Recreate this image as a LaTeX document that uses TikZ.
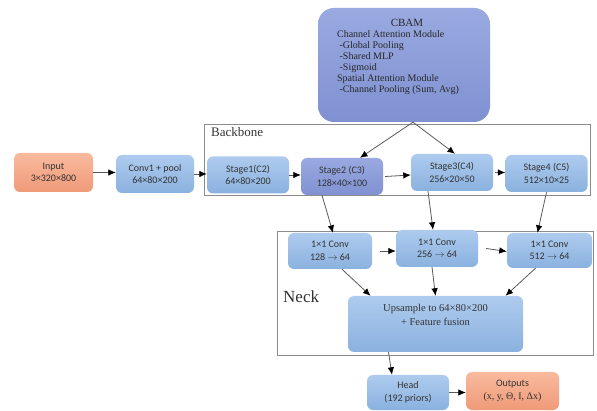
\documentclass[tikz,border=0pt]{standalone}
\usepackage{fontspec}
\setmainfont{Liberation Serif}
\newfontfamily\boxfont{Carlito}
\usetikzlibrary{arrows.meta,positioning,calc}
\definecolor{boxtop}{HTML}{AECBEE}
\definecolor{boxbot}{HTML}{8AB1DF}
\definecolor{stagetop}{HTML}{9AA9E0}
\definecolor{stagebot}{HTML}{7F91D2}
\definecolor{orangetop}{HTML}{F9BA9E}
\definecolor{orangebot}{HTML}{EF9A78}
\definecolor{textgray}{HTML}{333333}
\definecolor{framegray}{HTML}{8C8C8C}

\begin{document}
\begin{tikzpicture}[
		x=1pt, y=-1pt,
		block/.style={rounded corners=6pt, top color=boxtop, bottom color=boxbot, text=textgray,
				align=center, inner sep=2pt, font=\boxfont\fontsize{10}{12.5}\selectfont},
		stagebox/.style={block, minimum width=82pt, minimum height=37pt},
		convbox/.style={block, minimum width=84pt, minimum height=36pt},
		darkbox/.style={stagebox, top color=stagetop, bottom color=stagebot},
		outbox/.style={block, top color=orangetop, bottom color=orangebot},
		cbambox/.style={rounded corners=16pt, top color=stagetop, bottom color=stagebot, text=black!85,
				minimum width=172pt, minimum height=114pt, inner sep=0pt, font=\fontsize{10}{11}\selectfont},
		frame/.style={draw=framegray, line width=0.8pt, inner sep=0pt},
		framelabel/.style={inner sep=0pt, anchor=base west, text=black!80},
		arr/.style={-{Latex[length=7.5pt,width=6.5pt,color=black]}, draw=black!65, line width=0.8pt}
	]

	\useasboundingbox (0,0) rectangle (597,411);

	\node[frame, minimum width=386pt, minimum height=71pt] (bbframe) at (397,159.5) {};
	\node[framelabel, font=\fontsize{13}{15}\selectfont] (bblabel) at (211,137) {Backbone};
	\node[frame, minimum width=316pt, minimum height=124pt] (neckframe) at (435,293) {};
	\node[framelabel, font=\fontsize{17}{19}\selectfont] (necklabel) at (283,303) {Neck};

	\node[cbambox] (cbam) at (404,65) {\begin{tabular}{@{}l@{\hspace{12pt}}}
			\multicolumn{1}{@{}c@{\hspace{12pt}}}{\hspace{18pt}\fontsize{11}{11}\selectfont CBAM}\\
			Channel Attention Module\\
			\ -Global Pooling\\
			\ -Shared MLP\\
			\ -Sigmoid\\
			Spatial Attention Module\\
			\ -Channel Pooling (Sum, Avg)\\[16pt]
		\end{tabular}};

	\node[outbox, minimum width=79pt, minimum height=39pt] (input) at (53.5,172.5) {Input\\3×320×800};
	\node[block, minimum width=78pt, minimum height=38pt] (conv1) at (155,174) {Conv1 + pool\\64×80×200};
	\node[stagebox] (stage1) at (248,175) {Stage1(C2)\\64×80×200};
	\node[darkbox] (stage2) at (342,176.5) {Stage2 (C3)\\128×40×100};
	\node[stagebox] (stage3) at (452,172.5) {Stage3(C4)\\256×20×50};
	\node[stagebox] (stage4) at (546.5,173.5) {Stage4 (C5)\\512×10×25};

	\node[convbox] (lat3) at (330,251) {1×1 Conv\\128 $\to$ 64};
	\node[convbox, minimum width=82pt, minimum height=37pt] (lat4) at (437,248.5) {1×1 Conv\\256 $\to$ 64};
	\node[convbox, minimum width=85pt, minimum height=35pt] (lat5) at (549.5,250.5) {1×1 Conv\\512 $\to$ 64};

	\node[block, minimum width=175pt, minimum height=56pt, font=\fontsize{10.5}{14}\selectfont] (fusion) at (435.5,324) {Upsample to 64×80×200\\+ Feature fusion\\[4pt]};

	\node[block, minimum width=82pt, minimum height=35pt] (head) at (408,392.5) {Head\\(192 priors)};
	\node[outbox, minimum width=93pt, minimum height=38pt] (outputs) at (512.5,391) {Outputs\\{\rmfamily (x, y, Θ, I, Δx)}};

	\draw[arr] (input.east) -- (input.east -| conv1.west);
	\draw[arr] (conv1.east) -- (conv1.east -| stage1.west);
	\draw[arr] (stage1.east) -- (stage1.east -| stage2.west);
	\draw[arr] ([xshift=2pt]stage2.east) -- ([yshift=1.5pt]stage2.east -| stage3.west);
	\draw[arr] ([xshift=2pt]stage3.east) -- (stage3.east -| stage4.west);

	\draw[arr] ([xshift=9pt]cbam.south) -- ([xshift=18pt]stage2.north);
	\draw[arr] ([xshift=9pt]cbam.south) -- ([xshift=3pt]stage3.north);

	\draw[arr] ([xshift=-20pt]stage2.south) -- ([xshift=3pt]lat3.north);
	\draw[arr] ([xshift=-24pt]stage3.south) -- ([xshift=-4pt]lat4.north);
	\draw[arr] (stage4.south) -- ([xshift=-12pt]lat5.north);

	\draw[arr] ([xshift=8pt]lat3.east) -- (lat3.east -| lat4.west);
	\draw[arr] ([xshift=8pt]lat4.east) -- ([yshift=-3pt]lat4.east -| lat5.west);

	\draw[arr] ([xshift=12pt]lat3.south) -- ([xshift=-65pt]fusion.north);
	\draw[arr] ([xshift=-5pt]lat4.south) -- (fusion.north);
	\draw[arr] ([xshift=-14pt]lat5.south) -- ([xshift=70pt]fusion.north);

	\draw[arr] ([xshift=-47pt]fusion.south) -- ([xshift=-16pt]head.north);
	\draw[arr] (head.east) -- (head.east -| outputs.west);

\end{tikzpicture}
\end{document}
